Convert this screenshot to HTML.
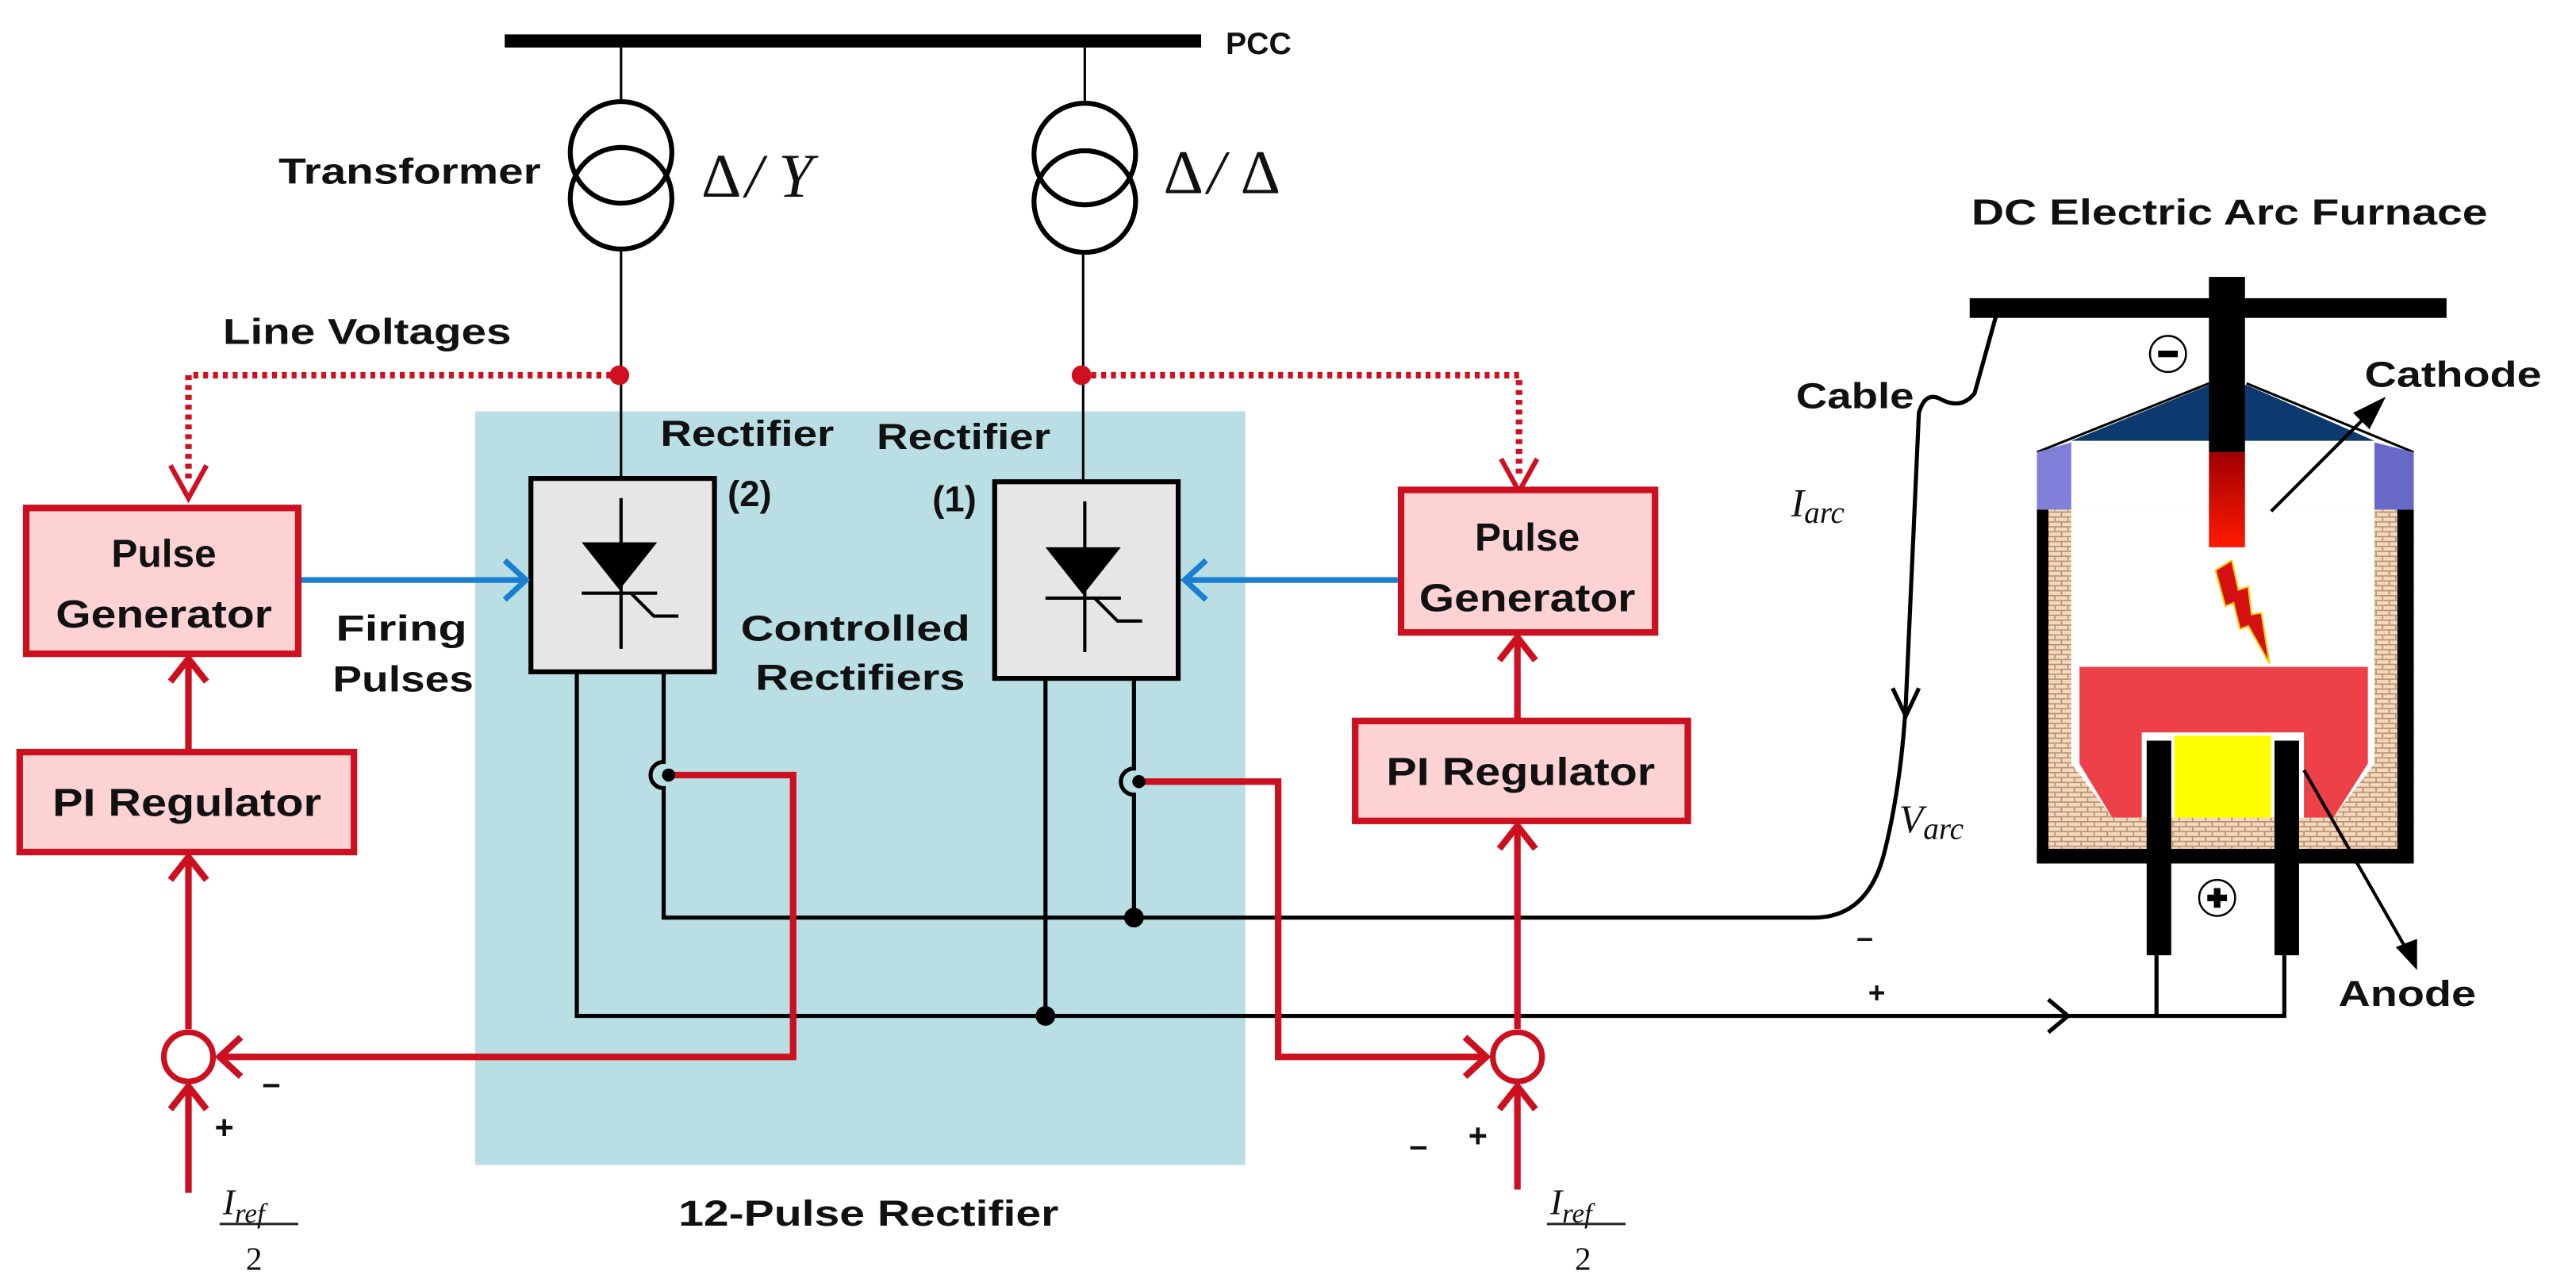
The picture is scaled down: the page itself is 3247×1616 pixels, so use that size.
<!DOCTYPE html>
<html><head><meta charset="utf-8"><style>
html,body{margin:0;padding:0;background:#fff;}
svg{display:block;}
text{font-family:"Liberation Sans",Arial,sans-serif;font-weight:bold;fill:#111;}
.m{font-family:"Liberation Serif",serif;font-style:italic;font-weight:normal;}
</style></head><body>
<svg width="3247" height="1616" viewBox="0 0 1572 782.4" preserveAspectRatio="none" xmlns="http://www.w3.org/2000/svg">
<defs>
<pattern id="brick" width="8" height="6" patternUnits="userSpaceOnUse">
<rect width="8" height="6" fill="#f4d9c0"/>
<path d="M0 0.5H8M0 3.5H8M2 0.5V3.5M6 3.5V6" stroke="#b8906a" stroke-width="0.8" fill="none"/>
</pattern>
<linearGradient id="rod" x1="0" y1="0" x2="0" y2="1"><stop offset="0" stop-color="#a00000"/><stop offset="1" stop-color="#ff1a00"/></linearGradient>
</defs>

<rect x="290" y="251" width="470" height="460" fill="#b9dfe4"/>

<rect x="308" y="21" width="425" height="8" fill="#000"/>
<text x="748" y="33" font-size="19">PCC</text>

<g fill="none" stroke="#000">
<line x1="379" y1="29" x2="379" y2="62" stroke-width="1.5"/>
<circle cx="379" cy="93" r="31" stroke-width="3"/>
<circle cx="379" cy="121" r="31" stroke-width="3"/>
<line x1="379" y1="152" x2="379" y2="292" stroke-width="1.5"/>
<line x1="662" y1="29" x2="662" y2="63" stroke-width="1.5"/>
<circle cx="662" cy="94" r="31" stroke-width="3"/>
<circle cx="662" cy="123" r="31" stroke-width="3"/>
<line x1="661" y1="154" x2="661" y2="294" stroke-width="1.5"/>
</g>
<text x="170" y="112" font-size="22" textLength="160" lengthAdjust="spacingAndGlyphs">Transformer</text>
<text x="428" y="120" class="m" font-size="38" style="font-style:normal">Δ</text>
<text x="455" y="120" class="m" font-size="38">/</text>
<text x="475" y="120" class="m" font-size="38">Y</text>
<text x="710" y="118" class="m" font-size="38" style="font-style:normal">Δ</text>
<text x="737" y="118" class="m" font-size="38">/</text>
<text x="757" y="118" class="m" font-size="38" style="font-style:normal">Δ</text>

<text x="136" y="210" font-size="22" textLength="176" lengthAdjust="spacingAndGlyphs">Line Voltages</text>
<g fill="none" stroke="#d01020" stroke-width="4" stroke-dasharray="3 3">
<polyline points="373,229 115,229 115,295"/>
<polyline points="666,229 927,229 927,290"/>
</g>
<g fill="none" stroke="#d01020" stroke-width="3">
<polyline points="104,284 115,304 126,284"/>
<polyline points="916,280 927,300 938,280"/>
</g>
<circle cx="378" cy="229" r="6" fill="#d01020"/>
<circle cx="660" cy="229" r="6" fill="#d01020"/>

<rect x="324" y="292" width="112" height="118" fill="#e6e6e6" stroke="#000" stroke-width="3"/>
<rect x="607" y="294" width="112" height="120" fill="#e6e6e6" stroke="#000" stroke-width="3"/>
<g stroke="#000" stroke-width="2" fill="none">
<line x1="379" y1="304" x2="379" y2="396"/>
<line x1="355" y1="362" x2="401" y2="362"/>
<polyline points="385,362 399,376 414,376"/>
<line x1="662" y1="306" x2="662" y2="398"/>
<line x1="638" y1="365" x2="684" y2="365"/>
<polyline points="668,365 682,379 697,379"/>
</g>
<polygon points="355,331 401,331 378,360" fill="#000"/>
<polygon points="638,334 684,334 661,363" fill="#000"/>
<text x="403" y="272" font-size="22" textLength="106" lengthAdjust="spacingAndGlyphs">Rectifier</text>
<text x="444" y="309" font-size="22">(2)</text>
<text x="535" y="274" font-size="22" textLength="106" lengthAdjust="spacingAndGlyphs">Rectifier</text>
<text x="569" y="312" font-size="22">(1)</text>
<text x="205" y="391" font-size="22" textLength="80" lengthAdjust="spacingAndGlyphs">Firing</text>
<text x="203" y="422" font-size="22" textLength="86" lengthAdjust="spacingAndGlyphs">Pulses</text>
<text x="522" y="391" font-size="22" text-anchor="middle" textLength="140" lengthAdjust="spacingAndGlyphs">Controlled</text>
<text x="525" y="421" font-size="22" text-anchor="middle" textLength="128" lengthAdjust="spacingAndGlyphs">Rectifiers</text>
<text x="530" y="748" font-size="22" text-anchor="middle" textLength="232" lengthAdjust="spacingAndGlyphs">12-Pulse Rectifier</text>

<g stroke="#1a7fd0" stroke-width="3.5" fill="none">
<line x1="183" y1="354" x2="320" y2="354"/>
<polyline points="308,342 321,354 308,366"/>
<line x1="853" y1="354" x2="724" y2="354"/>
<polyline points="736,342 723,354 736,366"/>
</g>

<g stroke="#000" stroke-width="2.5" fill="none">
<polyline points="352,410 352,620 1258,620"/>
<path d="M405,410 V465 A8,8 0 0 0 405,481 V560 H1107 Q1140,560 1150,520 Q1160,480 1163,430 L1171,252 Q1175,238 1185,244 Q1197,250 1205,240 L1218,193"/>
<line x1="638" y1="414" x2="638" y2="620"/>
<path d="M692,414 V469 A8,8 0 0 0 692,485 V560"/>
<polyline points="1250,610 1262,620 1250,630"/>
<polyline points="1155,420 1163,437 1171,420"/>
<polyline points="1258,620 1394,620 1394,583"/>
<line x1="1316" y1="620" x2="1316" y2="583"/>
</g>
<circle cx="638" cy="620" r="6" fill="#000"/>
<circle cx="692" cy="560" r="6" fill="#000"/>
<text x="1133" y="578" font-size="18" font-weight="normal">–</text>
<text x="1140" y="612" font-size="18" font-weight="normal">+</text>

<g stroke="#cc1020" stroke-width="4" fill="none">
<polyline points="408,473 484,473 484,645 133,645"/>
<polyline points="147,633 134,645 147,657"/>
<polyline points="696,477 780,477 780,645 907,645"/>
<polyline points="894,633 907,645 894,657"/>
</g>
<circle cx="408" cy="473" r="4" fill="#000"/>
<circle cx="695" cy="477" r="4" fill="#000"/>

<g stroke="#cc1020" fill="#fcd2d2" stroke-width="4">
<rect x="16" y="310" width="166" height="89"/>
<rect x="12" y="459" width="204" height="61"/>
<rect x="855" y="299" width="155" height="87"/>
<rect x="827" y="440" width="203" height="61"/>
</g>
<g stroke="#cc1020" stroke-width="4" fill="none">
<line x1="115" y1="458" x2="115" y2="402"/>
<polyline points="104,416 115,402 126,416"/>
<line x1="115" y1="628" x2="115" y2="523"/>
<polyline points="104,537 115,523 126,537"/>
<circle cx="115" cy="645" r="15" stroke-width="3.5"/>
<line x1="115" y1="728" x2="115" y2="663"/>
<polyline points="104,677 115,663 126,677"/>
<line x1="926" y1="440" x2="926" y2="389"/>
<polyline points="915,403 926,389 937,403"/>
<line x1="926" y1="628" x2="926" y2="504"/>
<polyline points="915,518 926,504 937,518"/>
<circle cx="926" cy="645" r="15" stroke-width="3.5"/>
<line x1="926" y1="726" x2="926" y2="663"/>
<polyline points="915,677 926,663 937,677"/>
</g>
<text x="100" y="346" font-size="24" text-anchor="middle">Pulse</text>
<text x="100" y="383" font-size="24" text-anchor="middle" textLength="132" lengthAdjust="spacingAndGlyphs">Generator</text>
<text x="114" y="498" font-size="24" text-anchor="middle" textLength="164" lengthAdjust="spacingAndGlyphs">PI Regulator</text>
<text x="932" y="336" font-size="24" text-anchor="middle">Pulse</text>
<text x="932" y="373" font-size="24" text-anchor="middle" textLength="132" lengthAdjust="spacingAndGlyphs">Generator</text>
<text x="928" y="479" font-size="24" text-anchor="middle" textLength="164" lengthAdjust="spacingAndGlyphs">PI Regulator</text>
<text x="131" y="695" font-size="20" font-weight="normal">+</text>
<text x="160" y="668" font-size="20" font-weight="normal">–</text>
<text x="860" y="706" font-size="20" font-weight="normal">–</text>
<text x="896" y="700" font-size="20" font-weight="normal">+</text>
<text x="136" y="741" class="m" font-size="22">I<tspan font-size="17" dy="5">ref</tspan></text>
<line x1="134" y1="747" x2="182" y2="747" stroke="#222" stroke-width="1.5"/>
<text x="150" y="775" class="m" font-size="20" style="font-style:normal">2</text>
<text x="946" y="741" class="m" font-size="22">I<tspan font-size="17" dy="5">ref</tspan></text>
<line x1="944" y1="747" x2="992" y2="747" stroke="#222" stroke-width="1.5"/>
<text x="961" y="775" class="m" font-size="20" style="font-style:normal">2</text>

<text x="1203" y="137" font-size="22" textLength="315" lengthAdjust="spacingAndGlyphs">DC Electric Arc Furnace</text>
<text x="1096" y="249" font-size="22" textLength="72" lengthAdjust="spacingAndGlyphs">Cable</text>
<text x="1093" y="315" class="m" font-size="24">I<tspan font-size="19" dy="4">arc</tspan></text>
<text x="1159" y="508" class="m" font-size="24">V<tspan font-size="19" dy="4">arc</tspan></text>
<text x="1443" y="236" font-size="22" textLength="108" lengthAdjust="spacingAndGlyphs">Cathode</text>
<text x="1427" y="614" font-size="22" textLength="84" lengthAdjust="spacingAndGlyphs">Anode</text>

<rect x="1202" y="182" width="291" height="12" fill="#000"/>
<rect x="1243" y="311" width="230" height="216" fill="url(#brick)"/>
<rect x="1243" y="311" width="7" height="216" fill="#000"/>
<rect x="1463" y="311" width="10" height="216" fill="#000"/>
<rect x="1243" y="518" width="230" height="9" fill="#000"/>
<rect x="1264" y="311" width="185" height="188" fill="#fff"/>
<polygon points="1264,466 1289,499 1264,499" fill="url(#brick)"/>
<polygon points="1449,466 1424,499 1449,499" fill="url(#brick)"/>
<polygon points="1264,269 1348,235 1371,235 1449,269" fill="#0c3a6e"/>
<polyline points="1243,276 1348,234" stroke="#000" stroke-width="1.5" fill="none"/>
<polyline points="1371,234 1473,276" stroke="#000" stroke-width="1.5" fill="none"/>
<polygon points="1243,276 1264,270 1264,311 1243,311" fill="#8080d8"/>
<polygon points="1449,270 1473,276 1473,311 1449,311" fill="#6868c8"/>
<rect x="1348" y="169" width="22" height="107" fill="#000"/>
<rect x="1348" y="276" width="22" height="58" fill="url(#rod)"/>
<polygon points="1352,348 1362,342 1366,360 1372,358 1374,375 1380,374 1385,405 1372,382 1367,384 1363,368 1358,370" fill="#d41010" stroke="#ffcc00" stroke-width="1"/>
<polygon points="1269,407 1445,407 1445,466 1424,499 1289,499 1269,466" fill="#ee4048"/>
<rect x="1307" y="447" width="99" height="54" fill="#fff"/>
<rect x="1327" y="449" width="59" height="52" fill="#ffff00"/>
<rect x="1289" y="499" width="135" height="19" fill="url(#brick)"/>
<rect x="1310" y="452" width="15" height="131" fill="#000"/>
<rect x="1388" y="452" width="15" height="131" fill="#000"/>
<circle cx="1323" cy="216" r="11" fill="#fff" stroke="#000" stroke-width="1.2"/>
<rect x="1317" y="214" width="12" height="4" fill="#000"/>
<circle cx="1353" cy="548" r="11" fill="#fff" stroke="#000" stroke-width="1.2"/>
<rect x="1347" y="546" width="12" height="4" fill="#000"/>
<rect x="1351" y="542" width="4" height="12" fill="#000"/>
<line x1="1386" y1="312" x2="1448" y2="250" stroke="#000" stroke-width="2"/>
<polygon points="1456,242 1436,252 1446,262" fill="#000"/>
<line x1="1406" y1="470" x2="1470" y2="582" stroke="#000" stroke-width="2"/>
<polygon points="1475,592 1462,578 1475,573" fill="#000"/>
</svg>
</body></html>
